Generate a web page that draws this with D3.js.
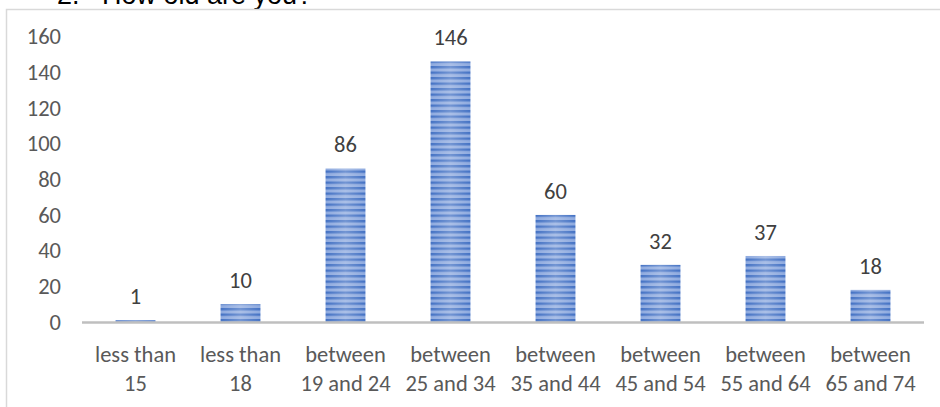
<!DOCTYPE html>
<html>
<head>
<meta charset="utf-8">
<script src="https://cdn.jsdelivr.net/npm/d3@7"></script>
<style>
  body { margin: 0; background: #fff; }
  svg { display: block; }
</style>
</head>
<body>
<div id="chart"></div>
<script>
// age groups and counts
const categories = [
  ["less than", "15"],
  ["less than", "18"],
  ["between", "19 and 24"],
  ["between", "25 and 34"],
  ["between", "35 and 44"],
  ["between", "45 and 54"],
  ["between", "55 and 64"],
  ["between", "65 and 74"]
];
const counts = [1, 10, 86, 146, 60, 32, 37, 18];
const yTicks = [0, 20, 40, 60, 80, 100, 120, 140, 160];

const width = 940, height = 407;
const font = "Carlito, Calibri, Lato, sans-serif";
const fontSize = "22.5px";

const svg = d3.select("#chart")
  .append("svg")
  .attr("width", width)
  .attr("height", height);

// stripe fill for the bars
const defs = svg.append("defs");
const pat = defs.append("pattern")
  .attr("id", "stripes")
  .attr("patternUnits", "userSpaceOnUse")
  .attr("width", 10)
  .attr("height", 5.5);
pat.append("rect").attr("width", 10).attr("height", 5.5).attr("fill", "#8eaadf");
pat.append("rect").attr("width", 10).attr("height", 2.4).attr("fill", "#4472c4");

const shine = defs.append("linearGradient")
  .attr("id", "shine")
  .attr("x1", "0%").attr("x2", "100%")
  .attr("y1", "0%").attr("y2", "0%");
shine.append("stop").attr("offset", "0%").attr("stop-color", "#fff").attr("stop-opacity", 0);
shine.append("stop").attr("offset", "50%").attr("stop-color", "#fff").attr("stop-opacity", 0.25);
shine.append("stop").attr("offset", "100%").attr("stop-color", "#fff").attr("stop-opacity", 0);

// title, cut off at the top of the picture
svg.append("text")
  .attr("x", 57)
  .attr("y", 4)
  .style("font-family", "'Liberation Sans', Arial, sans-serif")
  .style("font-size", "27px")
  .attr("fill", "#000")
  .attr("xml:space", "preserve")
  .text("2.   How old are you?");

// chart frame
svg.append("rect")
  .attr("x", 6.5)
  .attr("y", 9.5)
  .attr("width", 1000)
  .attr("height", 500)
  .attr("fill", "none")
  .attr("stroke", "#d9d9d9")
  .attr("stroke-width", 1.5);

const x = d3.scaleBand()
  .domain(d3.range(categories.length))
  .range([83, 923])
  .paddingInner(0.62)
  .paddingOuter(0.31);

const y = d3.scaleLinear()
  .domain([0, 160])
  .range([322, 36.5]);

// y axis labels only
const yAxis = svg.append("g")
  .attr("transform", "translate(61,0)")
  .call(d3.axisLeft(y).tickValues(yTicks).tickSize(0).tickPadding(0));
yAxis.select(".domain").remove();
yAxis.selectAll("text")
  .style("font-family", font)
  .style("font-size", fontSize)
  .attr("fill", "#595959");

// bars
svg.append("g")
  .selectAll("rect")
  .data(counts)
  .join("rect")
  .attr("x", (d, i) => x(i))
  .attr("y", d => y(d))
  .attr("width", x.bandwidth())
  .attr("height", d => y(0) - y(d))
  .attr("fill", "url(#stripes)");

svg.append("g")
  .selectAll("rect")
  .data(counts)
  .join("rect")
  .attr("x", (d, i) => x(i))
  .attr("y", d => y(d))
  .attr("width", x.bandwidth())
  .attr("height", d => y(0) - y(d))
  .attr("fill", "url(#shine)");

// baseline
svg.append("line")
  .attr("x1", 82).attr("x2", 924)
  .attr("y1", y(0) + 0.5).attr("y2", y(0) + 0.5)
  .attr("stroke", "#bfbfbf")
  .attr("stroke-width", 2.5);

// value labels
svg.append("g")
  .selectAll("text")
  .data(counts)
  .join("text")
  .attr("x", (d, i) => x(i) + x.bandwidth() / 2)
  .attr("y", d => y(d) - 24)
  .attr("dy", "0.35em")
  .attr("text-anchor", "middle")
  .style("font-family", font)
  .style("font-size", fontSize)
  .attr("fill", "#404040")
  .text(d => d);

// category labels, two lines each
const xl = svg.append("g")
  .selectAll("text")
  .data(categories)
  .join("text")
  .attr("text-anchor", "middle")
  .style("font-family", font)
  .style("font-size", fontSize)
  .attr("fill", "#595959");
xl.selectAll("tspan")
  .data((d, i) => d.map(s => ({ s, i })))
  .join("tspan")
  .attr("x", d => x(d.i) + x.bandwidth() / 2)
  .attr("y", (d, j) => 354 + j * 29)
  .attr("dy", "0.35em")
  .text(d => d.s);
</script>
</body>
</html>
